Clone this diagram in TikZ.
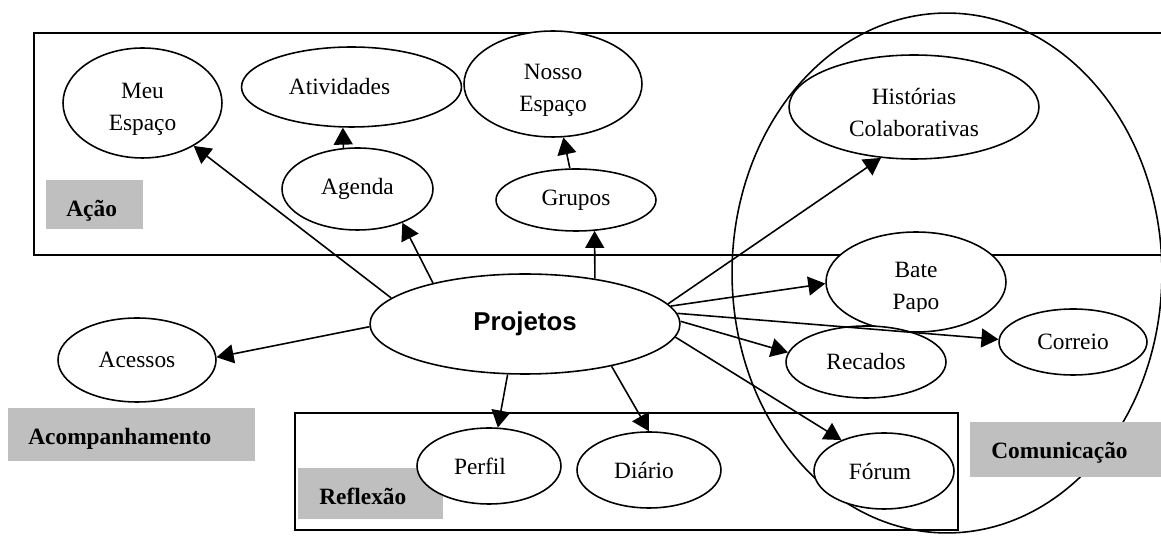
\documentclass[tikz,border=0pt]{standalone}
\usepackage{fontspec}
\setmainfont{Liberation Serif}
\newfontfamily\arialf{Liberation Sans}
\usetikzlibrary{arrows.meta,shapes.geometric}
\definecolor{lblgray}{RGB}{191,191,191}
\begin{document}
\begin{tikzpicture}[x=0.02cm,y=-0.02cm,
  font=\fontsize{13.3}{18.3}\selectfont,
  bubble/.style={ellipse, draw, line width=0.9pt, fill=white, inner sep=0pt, align=center},
  conn/.style={-{Triangle[length=0.34cm,width=0.38cm]}, line width=0.9pt},
  frame/.style={draw, line width=1.1pt},
  graybox/.style={fill=lblgray, inner sep=0pt, anchor=north west},
  lbl/.style={font=\fontsize{13.3}{16}\selectfont\bfseries, anchor=base west, inner sep=0pt},
  plaintext/.style={inner sep=0pt, align=center}]
\useasboundingbox (0,0) rectangle (1161,536);

% frames
\draw[frame] (1175,33) -| (34,255) -- (1175,255);
\draw[frame] (295,413) rectangle (958,530);
\draw[line width=0.9pt] (947,273) ellipse [x radius=4.3cm, y radius=5.2cm];

% gray label boxes
\node[graybox, minimum width=1.94cm, minimum height=0.98cm] (acaobox) at (46,180) {};
\node[graybox, minimum width=4.94cm, minimum height=1.06cm] (acompbox) at (8,408) {};
\node[graybox, minimum width=2.9cm, minimum height=1.02cm] (reflbox) at (298,468) {};
\node[graybox, minimum width=3.9cm, minimum height=1.1cm] (comunbox) at (970,422) {};
\node[lbl] (acaotxt) at (66,217) {Ação};
\node[lbl] (acomptxt) at (28,445) {Acompanhamento};
\node[lbl] (refltxt) at (319,505) {Reflexão};
\node[lbl] (comuntxt) at (991,459) {Comunicação};

% nodes
\node[bubble, minimum width=3.18cm, minimum height=2.2cm] (meu) at (142.5,103) {\rule{0pt}{15.5pt}Meu\\Espaço};
\node[bubble, minimum width=4.4cm, minimum height=1.6cm] (ativ) at (351.5,87) {Atividades\kern0.48cm};
\node[bubble, minimum width=3.02cm, minimum height=1.64cm] (agenda) at (357.5,189) {Agenda};
\node[bubble, minimum width=3.56cm, minimum height=2.12cm] (nosso) at (553,84) {\rule{0pt}{15.5pt}Nosso\\Espaço};
\node[bubble, minimum width=3.2cm, minimum height=1.24cm] (grupos) at (576,200) {Grupos};
\node[bubble, minimum width=5.0cm, minimum height=2.08cm] (hist) at (914,107) {\rule{0pt}{15.5pt}Histórias\\Colaborativas};
\node[bubble, minimum width=3.6cm, minimum height=2.0cm] (bate) at (916,282) {};
\begin{scope}
  \clip (820,225) rectangle (1010,312);
  \node[plaintext] (batetxt) at (bate.center) {\rule{0pt}{15.5pt}Bate\\Papo};
\end{scope}
\node[bubble, minimum width=3.2cm, minimum height=1.44cm] (recados) at (866,362) {Recados};
\node[bubble, minimum width=2.96cm, minimum height=1.32cm] (correio) at (1073,342) {Correio};
\node[bubble, minimum width=2.8cm, minimum height=1.52cm] (forum) at (884,471) {Fórum\kern0.16cm};
\node[bubble, minimum width=2.88cm, minimum height=1.52cm] (perfil) at (489,466) {Perfil\kern0.36cm};
\node[bubble, minimum width=2.88cm, minimum height=1.52cm] (diario) at (649,470) {Diário\kern0.2cm};
\node[bubble, minimum width=3.16cm, minimum height=1.68cm] (acessos) at (137,360) {Acessos};
\node[bubble, minimum width=6.2cm, minimum height=2.0cm, font=\arialf\bfseries\fontsize{14.7}{17}\selectfont] (proj) at (525,324) {Projetos};

% connectors
\draw[conn] (proj.169) -- (meu.-40);
\draw[conn] (proj.156) -- (agenda.-37);
\draw[conn] (agenda.109) -- (ativ.-102);
\draw[conn] (grupos.101) -- (nosso.-79);
\draw[conn] (proj.33) -- (grupos.-59);
\draw[conn] (proj.8) -- (hist.-123);
\draw[conn] (proj.7) -- (bate.181);
\draw[conn] (proj.4) -- (correio.178);
\draw[conn] (proj.1) -- (recados.173);
\draw[conn] (proj.-5) -- (forum.144);
\draw[conn] (proj.181) -- (acessos.2);
\draw[conn] (proj.-109) -- (perfil.77);
\draw[conn] (proj.-26) -- (diario.90);
\end{tikzpicture}
\end{document}
